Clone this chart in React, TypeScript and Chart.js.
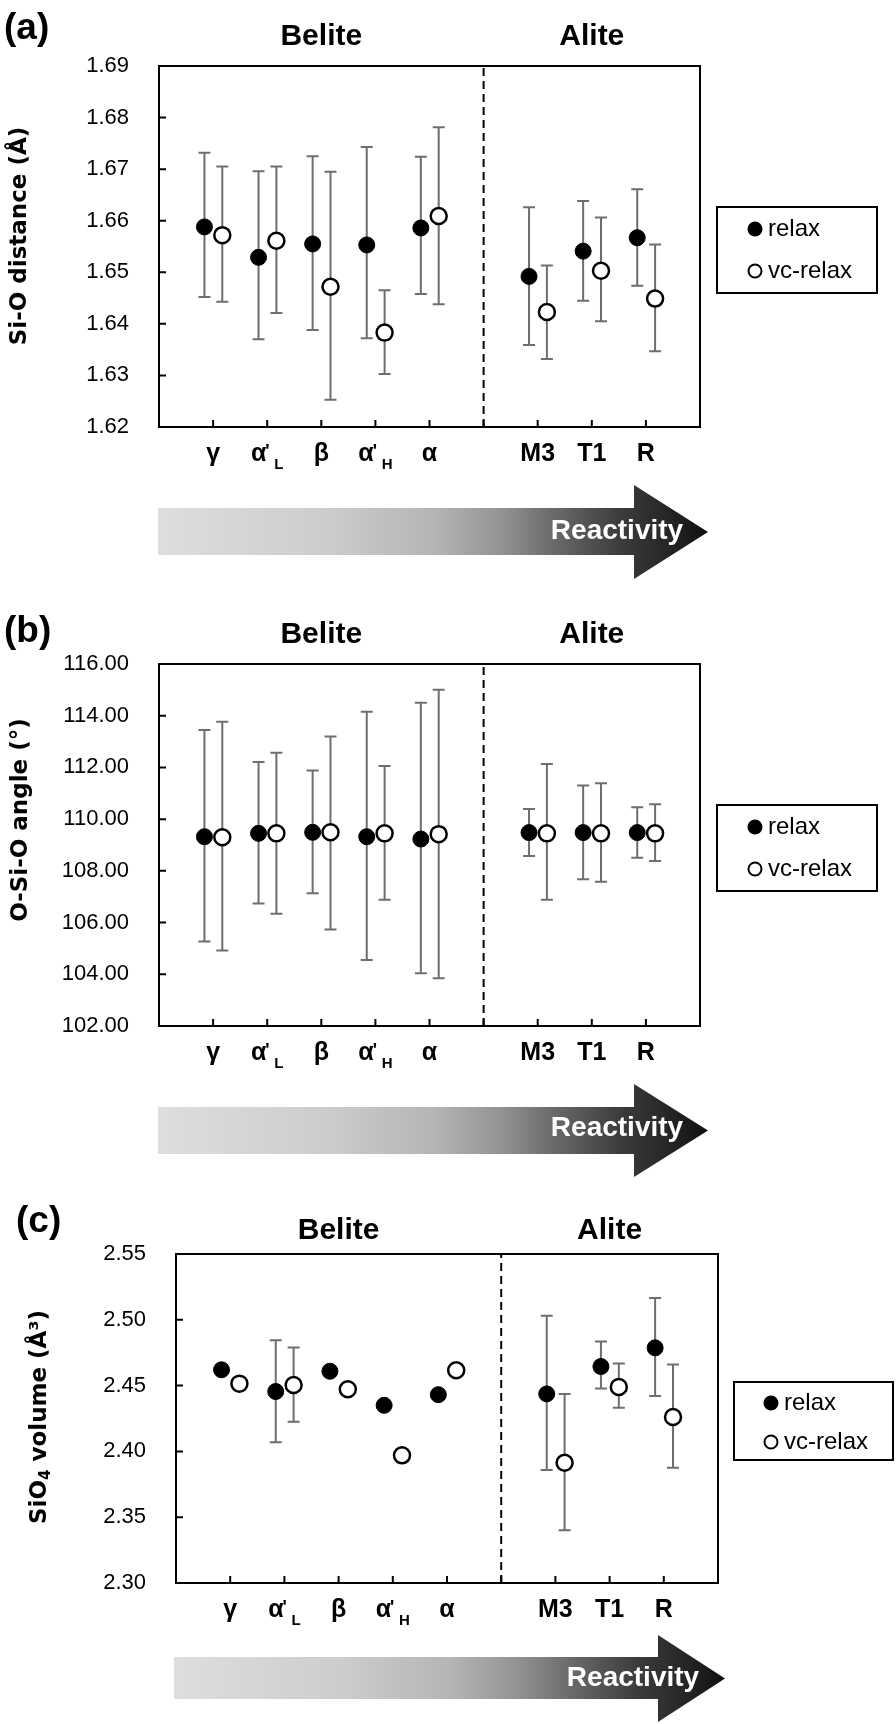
import React, { useEffect, useRef } from 'react';
import { Chart, registerables } from 'chart.js';

Chart.register(...registerables);

// ---------------- data ----------------
const categoryBase = ['γ', 'α', 'β', 'α', 'α', 'M3', 'T1', 'R'];
const categoryPrime = [false, true, false, true, false, false, false, false];
const categorySub = ['', 'L', '', 'H', '', '', '', ''];
const groupNames = ['Belite', 'Alite'];
const groupSizes = [5, 3];
const seriesNames = ['relax', 'vc-relax'];

// (a) Si-O distance
const aTicks = ['1.62', '1.63', '1.64', '1.65', '1.66', '1.67', '1.68', '1.69'];
const aRelax = [1.6588, 1.6529, 1.6555, 1.6553, 1.6586, 1.6492, 1.6541, 1.6567];
const aRelaxLow = [1.6452, 1.637, 1.6388, 1.6372, 1.6458, 1.6359, 1.6445, 1.6474];
const aRelaxHigh = [1.6732, 1.6696, 1.6725, 1.6743, 1.6724, 1.6626, 1.6638, 1.6661];
const aVc = [1.6572, 1.6561, 1.6472, 1.6383, 1.6609, 1.6423, 1.6503, 1.6449];
const aVcLow = [1.6443, 1.6421, 1.6253, 1.6303, 1.6438, 1.6332, 1.6405, 1.6347];
const aVcHigh = [1.6705, 1.6705, 1.6695, 1.6465, 1.6781, 1.6513, 1.6606, 1.6554];

// (b) O-Si-O angle
const bTicks = ['102.00', '104.00', '106.00', '108.00', '110.00', '112.00', '114.00', '116.00'];
const bRelax = [109.32, 109.45, 109.49, 109.32, 109.23, 109.48, 109.48, 109.48];
const bRelaxLow = [105.27, 106.74, 107.13, 104.55, 104.04, 108.57, 107.68, 108.51];
const bRelaxHigh = [113.45, 112.21, 111.88, 114.15, 114.5, 110.39, 111.3, 110.46];
const bVc = [109.3, 109.45, 109.49, 109.45, 109.42, 109.45, 109.45, 109.45];
const bVcLow = [104.92, 106.34, 105.73, 106.88, 103.85, 106.88, 107.58, 108.38];
const bVcHigh = [113.77, 112.57, 113.2, 112.06, 115.0, 112.13, 111.39, 110.58];

// (c) SiO4 volume
const cTicks = ['2.30', '2.35', '2.40', '2.45', '2.50', '2.55'];
const cRelax = [2.462, 2.4455, 2.4609, 2.435, 2.4431, 2.4437, 2.4645, 2.4787];
const cRelaxLow = [null, 2.4069, null, null, null, 2.3858, 2.4478, 2.4421];
const cRelaxHigh = [null, 2.4845, null, null, null, 2.503, 2.4835, 2.5165];
const cVc = [2.4515, 2.4505, 2.4472, 2.397, 2.4617, 2.3914, 2.449, 2.4261];
const cVcLow = [null, 2.4226, null, null, null, 2.3401, 2.4332, 2.3876];
const cVcHigh = [null, 2.4789, null, null, null, 2.4437, 2.4668, 2.466];

// ---------------- layout helpers ----------------
const SANS = '"Liberation Sans", Arial, Helvetica, sans-serif';
const TITLE_FONT = '"DejaVu Sans", Verdana, sans-serif';

const xPositions: number[] = [];
const groupCenters: number[] = [];
const dividerPositions: number[] = [];
let slot = 0;
groupSizes.forEach((n, gi) => {
  const start = slot + 1;
  for (let i = 0; i < n; i++) {
    slot += 1;
    xPositions.push(slot);
  }
  groupCenters.push((start + slot) / 2);
  slot += 1;
  if (gi < groupSizes.length - 1) dividerPositions.push(slot);
});
const xMax = slot;

type Part = { text: string; sub?: boolean };

interface PanelCfg {
  letter: string;
  top: number;
  height: number;
  area: { l: number; r: number; t: number; b: number };
  ticks: string[];
  relax: number[];
  relaxLow: (number | null)[];
  relaxHigh: (number | null)[];
  vc: number[];
  vcLow: (number | null)[];
  vcHigh: (number | null)[];
  title: Part[];
  titlePos: { x: number; y: number };
  letterPos: { x: number; y: number };
  groupY: number;
  legend: { l: number; r: number; t: number; b: number; y1: number; y2: number; mx: number; tx: number };
  arrow: { left: number; headBase: number; tip: number; barTop: number; barBot: number; headTop: number; headBot: number; textX: number; textY: number };
}

const panels: PanelCfg[] = [
  {
    letter: '(a)', top: 0, height: 598,
    area: { l: 159, r: 700, t: 66, b: 427 },
    ticks: aTicks, relax: aRelax, relaxLow: aRelaxLow, relaxHigh: aRelaxHigh,
    vc: aVc, vcLow: aVcLow, vcHigh: aVcHigh,
    title: [{ text: 'Si-O distance (Å)' }],
    titlePos: { x: 20, y: 236 }, letterPos: { x: 4, y: 29 }, groupY: 37,
    legend: { l: 717, r: 877, t: 207, b: 293, y1: 229, y2: 271, mx: 755, tx: 768 },
    arrow: { left: 158, headBase: 634, tip: 708, barTop: 508, barBot: 555, headTop: 485, headBot: 579, textX: 617, textY: 531 },
  },
  {
    letter: '(b)', top: 598, height: 590,
    area: { l: 159, r: 700, t: 66, b: 428 },
    ticks: bTicks, relax: bRelax, relaxLow: bRelaxLow, relaxHigh: bRelaxHigh,
    vc: bVc, vcLow: bVcLow, vcHigh: bVcHigh,
    title: [{ text: 'O-Si-O angle (°)' }],
    titlePos: { x: 21, y: 222 }, letterPos: { x: 4, y: 34 }, groupY: 37,
    legend: { l: 717, r: 877, t: 207, b: 293, y1: 229, y2: 271, mx: 755, tx: 768 },
    arrow: { left: 158, headBase: 634, tip: 708, barTop: 509, barBot: 556, headTop: 486, headBot: 579, textX: 617, textY: 530 },
  },
  {
    letter: '(c)', top: 1188, height: 536,
    area: { l: 176, r: 718, t: 66, b: 395 },
    ticks: cTicks, relax: cRelax, relaxLow: cRelaxLow, relaxHigh: cRelaxHigh,
    vc: cVc, vcLow: cVcLow, vcHigh: cVcHigh,
    title: [{ text: 'SiO' }, { text: '4', sub: true }, { text: ' volume (Å³)' }],
    titlePos: { x: 40, y: 229 }, letterPos: { x: 16, y: 34 }, groupY: 43,
    legend: { l: 734, r: 893, t: 194, b: 272, y1: 215, y2: 254, mx: 771, tx: 784 },
    arrow: { left: 174, headBase: 658, tip: 725, barTop: 469, barBot: 511, headTop: 447, headBot: 534, textX: 633, textY: 490 },
  },
];

const RELAX_SHIFT = -0.16;
const VC_SHIFT = 0.17;

function drawCategoryLabel(ctx: CanvasRenderingContext2D, cx: number, baseline: number, i: number) {
  const base = categoryBase[i];
  const prime = categoryPrime[i];
  const sub = categorySub[i];
  ctx.font = `bold 25px ${SANS}`;
  const wb = ctx.measureText(base).width;
  ctx.font = `bold 15px ${SANS}`;
  const ws = sub ? ctx.measureText(sub).width : 0;
  const total = sub ? wb + 8 + ws : wb;
  const x0 = cx - total / 2;
  ctx.textAlign = 'left';
  ctx.textBaseline = 'alphabetic';
  ctx.fillStyle = '#000';
  ctx.font = `bold 25px ${SANS}`;
  ctx.fillText(base, x0, baseline);
  if (prime) {
    ctx.font = `bold 18px ${SANS}`;
    ctx.fillText("'", x0 + wb - 1, baseline - 4);
  }
  if (sub) {
    ctx.font = `bold 15px ${SANS}`;
    ctx.fillText(sub, x0 + wb + 8, baseline + 7.5);
  }
}

function drawRichRotated(ctx: CanvasRenderingContext2D, parts: Part[], cx: number, cy: number) {
  const big = `bold 23px ${TITLE_FONT}`;
  const small = `bold 15px ${TITLE_FONT}`;
  let total = 0;
  const widths = parts.map((p) => {
    ctx.font = p.sub ? small : big;
    const w = ctx.measureText(p.text).width;
    total += w;
    return w;
  });
  ctx.save();
  ctx.translate(cx, cy);
  ctx.rotate(-Math.PI / 2);
  ctx.fillStyle = '#000';
  ctx.textAlign = 'left';
  ctx.textBaseline = 'middle';
  let x = -total / 2;
  parts.forEach((p, i) => {
    ctx.font = p.sub ? small : big;
    ctx.fillText(p.text, x, p.sub ? 6 : 0);
    x += widths[i];
  });
  ctx.restore();
}

function makeChart(canvas: HTMLCanvasElement, cfg: PanelCfg) {
  const tickVals = cfg.ticks.map((t) => parseFloat(t));
  const yMin = tickVals[0];
  const yMax = tickVals[tickVals.length - 1];
  const series = [
    { shift: RELAX_SHIFT, low: cfg.relaxLow, high: cfg.relaxHigh },
    { shift: VC_SHIFT, low: cfg.vcLow, high: cfg.vcHigh },
  ];

  const extras = {
    id: 'extras',
    beforeDatasetsDraw(chart: any) {
      const ctx: CanvasRenderingContext2D = chart.ctx;
      const xs = chart.scales.x;
      const ys = chart.scales.y;
      ctx.save();
      ctx.strokeStyle = '#6e6e6e';
      ctx.lineWidth = 2;
      series.forEach((s) => {
        s.low.forEach((lo, i) => {
          const hi = s.high[i];
          if (lo == null || hi == null) return;
          const x = xs.getPixelForValue(xPositions[i] + s.shift);
          const y1 = ys.getPixelForValue(lo);
          const y2 = ys.getPixelForValue(hi);
          ctx.beginPath();
          ctx.moveTo(x, y1);
          ctx.lineTo(x, y2);
          ctx.moveTo(x - 6, y1);
          ctx.lineTo(x + 6, y1);
          ctx.moveTo(x - 6, y2);
          ctx.lineTo(x + 6, y2);
          ctx.stroke();
        });
      });
      ctx.restore();
    },
    afterDraw(chart: any) {
      const ctx: CanvasRenderingContext2D = chart.ctx;
      const ca = chart.chartArea;
      const xs = chart.scales.x;
      const ys = chart.scales.y;
      ctx.save();
      // frame
      ctx.strokeStyle = '#000';
      ctx.lineWidth = 2;
      ctx.strokeRect(ca.left, ca.top, ca.right - ca.left, ca.bottom - ca.top);
      // inward ticks
      ctx.beginPath();
      tickVals.forEach((v) => {
        const y = ys.getPixelForValue(v);
        ctx.moveTo(ca.left, y);
        ctx.lineTo(ca.left + 7, y);
      });
      for (let v = 1; v < xMax; v++) {
        const x = xs.getPixelForValue(v);
        ctx.moveTo(x, ca.bottom);
        ctx.lineTo(x, ca.bottom - 7);
      }
      ctx.stroke();
      // category labels
      categoryBase.forEach((_, i) => {
        drawCategoryLabel(ctx, xs.getPixelForValue(xPositions[i]), ca.bottom + 34, i);
      });
      // group names
      ctx.fillStyle = '#000';
      ctx.font = `bold 30px ${SANS}`;
      ctx.textAlign = 'center';
      ctx.textBaseline = 'middle';
      groupNames.forEach((g, gi) => {
        ctx.fillText(g, xs.getPixelForValue(groupCenters[gi]), cfg.groupY);
      });
      // panel letter
      ctx.font = `bold 37px ${SANS}`;
      ctx.textAlign = 'left';
      ctx.fillText(cfg.letter, cfg.letterPos.x, cfg.letterPos.y);
      // y title
      drawRichRotated(ctx, cfg.title, cfg.titlePos.x, cfg.titlePos.y);
      // legend
      const lg = cfg.legend;
      ctx.lineWidth = 2;
      ctx.strokeStyle = '#000';
      ctx.strokeRect(lg.l, lg.t, lg.r - lg.l, lg.b - lg.t);
      ctx.beginPath();
      ctx.arc(lg.mx, lg.y1, 7.5, 0, Math.PI * 2);
      ctx.fillStyle = '#000';
      ctx.fill();
      ctx.beginPath();
      ctx.arc(lg.mx, lg.y2, 6.5, 0, Math.PI * 2);
      ctx.fillStyle = '#fff';
      ctx.fill();
      ctx.stroke();
      ctx.fillStyle = '#000';
      ctx.font = `24px ${SANS}`;
      ctx.textAlign = 'left';
      ctx.textBaseline = 'middle';
      ctx.fillText(seriesNames[0], lg.tx, lg.y1);
      ctx.fillText(seriesNames[1], lg.tx, lg.y2);
      // reactivity arrow
      const a = cfg.arrow;
      const grad = ctx.createLinearGradient(a.left, 0, a.tip, 0);
      grad.addColorStop(0, '#dedede');
      grad.addColorStop(0.3, '#cdcdcd');
      grad.addColorStop(0.5, '#b5b5b5');
      grad.addColorStop(0.62, '#949494');
      grad.addColorStop(0.72, '#6a6a6a');
      grad.addColorStop(0.84, '#3c3c3c');
      grad.addColorStop(0.93, '#252525');
      grad.addColorStop(1, '#101010');
      ctx.beginPath();
      ctx.moveTo(a.left, a.barTop);
      ctx.lineTo(a.headBase, a.barTop);
      ctx.lineTo(a.headBase, a.headTop);
      ctx.lineTo(a.tip, (a.headTop + a.headBot) / 2);
      ctx.lineTo(a.headBase, a.headBot);
      ctx.lineTo(a.headBase, a.barBot);
      ctx.lineTo(a.left, a.barBot);
      ctx.closePath();
      ctx.fillStyle = grad;
      ctx.fill();
      ctx.fillStyle = '#fff';
      ctx.font = `bold 28px ${SANS}`;
      ctx.textAlign = 'center';
      ctx.textBaseline = 'middle';
      ctx.fillText('Reactivity', a.textX, a.textY);
      ctx.restore();
    },
  };

  return new Chart(canvas, {
    type: 'scatter',
    data: {
      datasets: [
        ...dividerPositions.map((d) => ({
          label: 'divider',
          data: [{ x: d, y: yMin }, { x: d, y: yMax }],
          showLine: true,
          borderColor: '#000',
          borderWidth: 2,
          borderDash: [8, 5],
          pointRadius: 0,
        })),
        {
          label: seriesNames[0],
          data: cfg.relax.map((v, i) => ({ x: xPositions[i] + RELAX_SHIFT, y: v })),
          pointRadius: 8,
          pointBackgroundColor: '#000',
          pointBorderColor: '#000',
          pointBorderWidth: 1,
          showLine: false,
        },
        {
          label: seriesNames[1],
          data: cfg.vc.map((v, i) => ({ x: xPositions[i] + VC_SHIFT, y: v })),
          pointRadius: 8,
          pointBackgroundColor: '#fff',
          pointBorderColor: '#000',
          pointBorderWidth: 2.5,
          showLine: false,
        },
      ],
    } as any,
    options: {
      animation: false,
      responsive: false,
      devicePixelRatio: 1,
      events: [],
      layout: {
        padding: { left: 0, top: cfg.area.t, right: 896 - cfg.area.r, bottom: cfg.height - cfg.area.b },
      },
      plugins: { legend: { display: false }, tooltip: { enabled: false } },
      scales: {
        x: {
          type: 'linear',
          min: 0,
          max: xMax,
          grid: { display: false, drawTicks: false },
          border: { display: false },
          ticks: { display: false },
          afterFit: (scale: any) => { scale.height = 0; },
        },
        y: {
          type: 'linear',
          min: yMin,
          max: yMax,
          grid: { display: false, drawTicks: false },
          border: { display: false },
          afterBuildTicks: (scale: any) => { scale.ticks = tickVals.map((v) => ({ value: v })); },
          afterFit: (scale: any) => { scale.width = cfg.area.l; },
          ticks: {
            padding: 30,
            color: '#000',
            font: { family: SANS, size: 22 },
            callback: (_v: any, index: number) => cfg.ticks[index] ?? '',
          },
        },
      },
    } as any,
    plugins: [extras],
  });
}

function Panel({ cfg }: { cfg: PanelCfg }) {
  const ref = useRef<HTMLCanvasElement>(null);
  useEffect(() => {
    if (!ref.current) return;
    const chart = makeChart(ref.current, cfg);
    return () => chart.destroy();
  }, [cfg]);
  return (
    <canvas
      ref={ref}
      width={896}
      height={cfg.height}
      style={{ position: 'absolute', left: 0, top: cfg.top, width: 896, height: cfg.height, display: 'block' }}
    />
  );
}

export default function App() {
  return (
    <div style={{ position: 'absolute', left: 0, top: 0, width: 896, height: 1724, background: '#fff' }}>
      {panels.map((p) => (
        <Panel key={p.letter} cfg={p} />
      ))}
    </div>
  );
}
